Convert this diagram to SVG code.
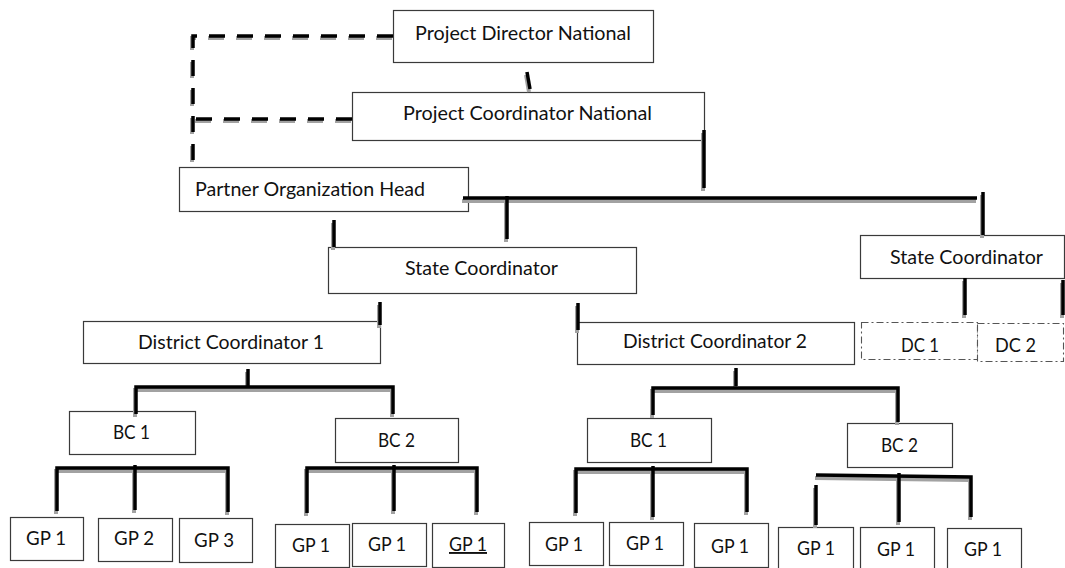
<svg xmlns="http://www.w3.org/2000/svg" xmlns:xlink="http://www.w3.org/1999/xlink" width="1065" height="568" viewBox="0 0 1065 568">
<style>
  .box { fill: #fff; stroke: #3a3a3a; stroke-width: 1.2; }
  .dbox { fill: #fff; stroke: #555; stroke-width: 1.1; stroke-dasharray: 7 3 2 3; }
  text { font-family: Lato, "Liberation Sans", sans-serif; font-size: 19px; fill: #111; }
</style>
<defs>
  <g id="solidLines">
    <path d="M527 72 L530 89"/>
    <path d="M704 130 V188"/>
    <path d="M463 198 H977"/>
    <path d="M983 192 V235"/>
    <path d="M507 196 V239"/>
    <path d="M334 220 V247"/>
    <path d="M380 302 V325"/>
    <path d="M578 303 V330"/>
    <path d="M965 278 V315"/>
    <path d="M1063 280 V315"/>
    <path d="M248 369 V386"/>
    <path d="M136 414 V387 H393 V414"/>
    <path d="M57 511 V468 H228 V512"/>
    <path d="M135 465 V510"/>
    <path d="M307 513 V468 H477 V512"/>
    <path d="M394 465 V511"/>
    <path d="M736 368 V386"/>
    <path d="M653 415 V388 H898 V422"/>
    <path d="M576 513 V469 H747 V512"/>
    <path d="M653 466 V517"/>
    <path d="M816 475 L971 477 V517"/>
    <path d="M816 485 V525"/>
    <path d="M899 473 V522"/>
  </g>
  <g id="dashedLines">
    <path d="M393 36 H193 V165"/>
    <path d="M352 119 H193"/>
  </g>
</defs>

<g id="node-pdn"><rect class="box" x="393.5" y="10.5" width="260" height="52"/><text x="415" y="40" textLength="216" lengthAdjust="spacingAndGlyphs">Project Director National</text></g>
<g id="node-pcn"><rect class="box" x="352.5" y="92.5" width="352" height="48"/><text x="403" y="120" textLength="249" lengthAdjust="spacingAndGlyphs">Project Coordinator National</text></g>
<g id="node-poh"><rect class="box" x="179.5" y="167.5" width="289" height="44"/><text x="195" y="196" textLength="230" lengthAdjust="spacingAndGlyphs">Partner Organization Head</text></g>
<g id="node-sc1"><rect class="box" x="328.5" y="247.5" width="308" height="46"/><text x="405" y="275" textLength="153" lengthAdjust="spacingAndGlyphs">State Coordinator</text></g>
<g id="node-sc2"><rect class="box" x="860.5" y="235.5" width="204" height="43"/><text x="890" y="264" textLength="153" lengthAdjust="spacingAndGlyphs">State Coordinator</text></g>
<g id="node-dc1"><rect class="box" x="83.5" y="321.5" width="297" height="42"/><text x="138" y="349" textLength="186" lengthAdjust="spacingAndGlyphs">District Coordinator 1</text></g>
<g id="node-dc2"><rect class="box" x="577.5" y="322.5" width="277" height="42"/><text x="623" y="348" textLength="184" lengthAdjust="spacingAndGlyphs">District Coordinator 2</text></g>
<g id="node-sc2-dc1"><rect class="dbox" x="861.5" y="322.5" width="116" height="37"/><text x="901" y="352" textLength="38" lengthAdjust="spacingAndGlyphs">DC 1</text></g>
<g id="node-sc2-dc2"><rect class="dbox" x="977.5" y="323.5" width="86" height="38"/><text x="995" y="352" textLength="41" lengthAdjust="spacingAndGlyphs">DC 2</text></g>

<g id="node-bc1-l"><rect class="box" x="69.5" y="411.5" width="126" height="43"/><text x="113" y="439" textLength="37" lengthAdjust="spacingAndGlyphs">BC 1</text></g>
<g id="node-bc2-l"><rect class="box" x="335.5" y="418.5" width="123" height="44"/><text x="378" y="447" textLength="37" lengthAdjust="spacingAndGlyphs">BC 2</text></g>
<g id="node-bc1-r"><rect class="box" x="587.5" y="418.5" width="124" height="44"/><text x="630" y="447" textLength="37" lengthAdjust="spacingAndGlyphs">BC 1</text></g>
<g id="node-bc2-r"><rect class="box" x="847.5" y="423.5" width="105" height="44"/><text x="881" y="452" textLength="37" lengthAdjust="spacingAndGlyphs">BC 2</text></g>

<g id="node-gp-a1"><rect class="box" x="10.5" y="517.5" width="73" height="43"/><text x="26" y="545" textLength="40" lengthAdjust="spacingAndGlyphs">GP 1</text></g>
<g id="node-gp-a2"><rect class="box" x="98.5" y="518.5" width="74" height="43"/><text x="114" y="545" textLength="40" lengthAdjust="spacingAndGlyphs">GP 2</text></g>
<g id="node-gp-a3"><rect class="box" x="179.5" y="518.5" width="73" height="44"/><text x="194" y="547" textLength="40" lengthAdjust="spacingAndGlyphs">GP 3</text></g>

<g id="node-gp-b1"><rect class="box" x="275.5" y="524.5" width="74" height="43"/><text x="292" y="552" textLength="38" lengthAdjust="spacingAndGlyphs">GP 1</text></g>
<g id="node-gp-b2"><rect class="box" x="352.5" y="523.5" width="74" height="43"/><text x="368" y="551" textLength="38" lengthAdjust="spacingAndGlyphs">GP 1</text></g>
<g id="node-gp-b3"><rect class="box" x="432.5" y="523.5" width="72" height="44"/><text x="449" y="551" textLength="38" lengthAdjust="spacingAndGlyphs" text-decoration="underline">GP 1</text></g>

<g id="node-gp-c1"><rect class="box" x="529.5" y="522.5" width="74" height="43"/><text x="545" y="551" textLength="38" lengthAdjust="spacingAndGlyphs">GP 1</text></g>
<g id="node-gp-c2"><rect class="box" x="609.5" y="522.5" width="74" height="43"/><text x="626" y="550" textLength="38" lengthAdjust="spacingAndGlyphs">GP 1</text></g>
<g id="node-gp-c3"><rect class="box" x="694.5" y="523.5" width="74" height="44"/><text x="711" y="553" textLength="38" lengthAdjust="spacingAndGlyphs">GP 1</text></g>

<g id="node-gp-d1"><rect class="box" x="778.5" y="527.5" width="75" height="46"/><text x="797" y="555" textLength="38" lengthAdjust="spacingAndGlyphs">GP 1</text></g>
<g id="node-gp-d2"><rect class="box" x="860.5" y="527.5" width="74" height="46"/><text x="877" y="556" textLength="38" lengthAdjust="spacingAndGlyphs">GP 1</text></g>
<g id="node-gp-d3"><rect class="box" x="947.5" y="528.5" width="74" height="46"/><text x="964" y="556" textLength="38" lengthAdjust="spacingAndGlyphs">GP 1</text></g>

<g id="connectors" fill="none">
  <use xlink:href="#solidLines" href="#solidLines" transform="translate(-1,3)" stroke="#a2a2a2" stroke-width="4"/>
  <use xlink:href="#solidLines" href="#solidLines" stroke="#000" stroke-width="3.5"/>
  <use xlink:href="#dashedLines" href="#dashedLines" transform="translate(-1,2)" stroke="#a2a2a2" stroke-width="4" stroke-dasharray="16 12"/>
  <use xlink:href="#dashedLines" href="#dashedLines" stroke="#000" stroke-width="3.5" stroke-dasharray="16 12"/>
</g>
</svg>
